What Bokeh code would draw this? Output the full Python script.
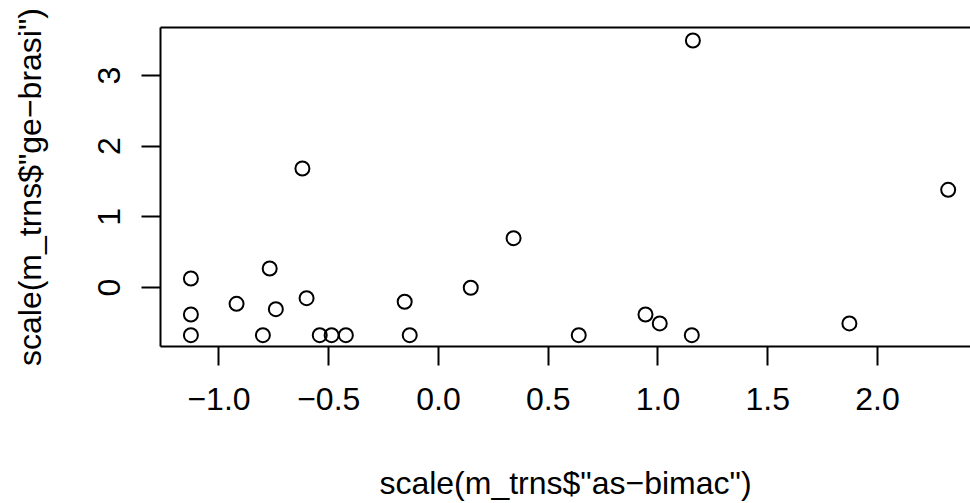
from bokeh.plotting import figure
from bokeh.models import Range1d, FixedTicker, ColumnDataSource, LinearAxis
from bokeh.embed import file_html
from bokeh.resources import INLINE

# data (scaled values)
x_vals = [-1.128, -1.128, -1.128, -0.920, -0.800, -0.769, -0.741, -0.620, -0.601,
          -0.541, -0.487, -0.422, -0.154, -0.131, 0.147, 0.342, 0.639, 0.943,
          1.008, 1.154, 1.159, 1.872, 2.322]
y_vals = [0.127, -0.382, -0.675, -0.231, -0.675, 0.269, -0.307, 1.684, -0.151,
          -0.675, -0.675, -0.675, -0.202, -0.675, -0.004, 0.698, -0.675, -0.382,
          -0.509, -0.675, 3.495, -0.509, 1.382]
x_ticks = [-1.0, -0.5, 0.0, 0.5, 1.0, 1.5, 2.0]
x_tick_labels = ["\u22121.0", "\u22120.5", "0.0", "0.5", "1.0", "1.5", "2.0"]
y_ticks = [0, 1, 2, 3]
y_tick_labels = ["0", "1", "2", "3"]
x_title = 'scale(m_trns$"as\u2212bimac")'
y_title = 'scale(m_trns$"ge\u2212brasi")'

FONT = "Liberation Sans"
FS = "32px"

src = ColumnDataSource(dict(x=x_vals, y=y_vals))

p = figure(width=970, height=503, output_backend="svg", toolbar_location=None,
           x_range=Range1d(-1.2665, 2.4237), y_range=Range1d(-0.835, 3.679),
           min_border_left=160, min_border_right=0, min_border_top=27,
           min_border_bottom=157)
p.background_fill_color = "white"
p.border_fill_color = "white"
p.outline_line_color = None
p.xgrid.visible = False
p.ygrid.visible = False

p.scatter("x", "y", source=src, marker="circle", size=14, fill_color=None,
          line_color="black", line_width=2)

for ax, ticks, labels in ((p.xaxis[0], x_ticks, x_tick_labels),
                          (p.yaxis[0], y_ticks, y_tick_labels)):
    ax.ticker = FixedTicker(ticks=ticks)
    ax.major_label_overrides = {t: l for t, l in zip(ticks, labels)}
    ax.minor_tick_line_color = None
    ax.axis_line_color = "black"
    ax.axis_line_width = 2
    ax.major_tick_in = 0
    ax.major_tick_out = 19
    ax.major_tick_line_width = 2
    ax.major_tick_line_color = "black"
    ax.major_label_text_font = FONT
    ax.major_label_text_font_size = FS
    ax.major_label_text_color = "black"
    ax.axis_label_text_font = FONT
    ax.axis_label_text_font_size = FS
    ax.axis_label_text_font_style = "normal"
    ax.axis_label_text_color = "black"

p.xaxis[0].axis_label = x_title
p.yaxis[0].axis_label = y_title
p.xaxis[0].major_label_standoff = 22
p.xaxis[0].axis_label_standoff = 52
p.yaxis[0].major_label_orientation = "vertical"
p.yaxis[0].major_label_standoff = 21
p.yaxis[0].axis_label_standoff = 48

# top border of the box (the right border lies beyond the window edge)
top = LinearAxis(ticker=FixedTicker(ticks=[]), major_tick_in=0, major_tick_out=0,
                 minor_tick_in=0, minor_tick_out=0, major_label_standoff=0,
                 major_label_text_font_size="0px", axis_line_width=2,
                 axis_line_color="black")
p.add_layout(top, "above")

open("out.html", "w").write(file_html(p, INLINE))
